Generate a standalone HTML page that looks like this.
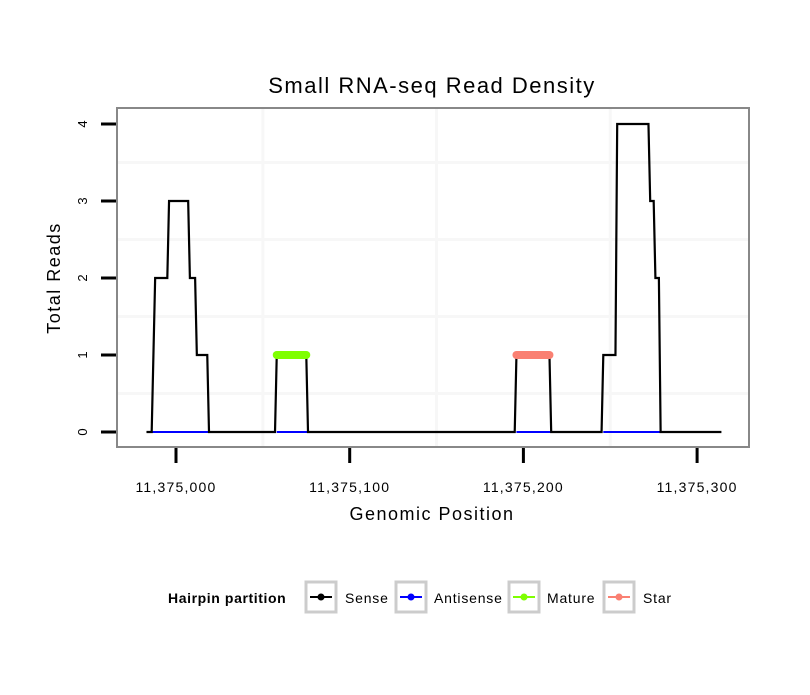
<!DOCTYPE html>
<html><head><meta charset="utf-8"><style>
body{margin:0;background:#fff;font-family:"Liberation Sans",sans-serif}
</style></head><body>
<svg width="810" height="690" xmlns="http://www.w3.org/2000/svg" font-family="Liberation Sans, sans-serif">
<text x="432" y="93" font-size="22" letter-spacing="1.5" text-anchor="middle">Small RNA-seq Read Density</text>
<g id="grid"></g>
<g id="series"></g>
<rect x="117" y="108" width="632" height="339" fill="none" stroke="#888" stroke-width="2"/>
<g id="axes"></g>
<text x="432" y="520" font-size="18" letter-spacing="1.5" text-anchor="middle">Genomic Position</text>
<text transform="translate(60,278) rotate(-90)" font-size="18" letter-spacing="1.5" text-anchor="middle">Total Reads</text>
<g>
<text x="168" y="603" font-size="14" letter-spacing="0.6" font-weight="bold">Hairpin partition</text>
<g><rect x="306" y="582" width="30" height="30" fill="#fff" stroke="#ccc" stroke-width="3"/><line x1="310" y1="597" x2="332" y2="597" stroke="#000" stroke-width="2"/><circle cx="321" cy="597" r="3.5" fill="#000"/><text x="345" y="603" font-size="14" letter-spacing="0.8">Sense</text></g>
<g><rect x="396" y="582" width="30" height="30" fill="#fff" stroke="#ccc" stroke-width="3"/><line x1="400" y1="597" x2="422" y2="597" stroke="#00f" stroke-width="2"/><circle cx="411" cy="597" r="3.5" fill="#00f"/><text x="434" y="603" font-size="14" letter-spacing="0.8">Antisense</text></g>
<g><rect x="509" y="582" width="30" height="30" fill="#fff" stroke="#ccc" stroke-width="3"/><line x1="513" y1="597" x2="535" y2="597" stroke="#7fff00" stroke-width="2"/><circle cx="524" cy="597" r="3.5" fill="#7fff00"/><text x="547" y="603" font-size="14" letter-spacing="0.8">Mature</text></g>
<g><rect x="604" y="582" width="30" height="30" fill="#fff" stroke="#ccc" stroke-width="3"/><line x1="608" y1="597" x2="630" y2="597" stroke="#fa8072" stroke-width="2"/><circle cx="619" cy="597" r="3.5" fill="#fa8072"/><text x="643" y="603" font-size="14" letter-spacing="0.8">Star</text></g>
</g>
</svg>
<script>
const xTicks=[0,100,200,300];
const xTickLabels=["11,375,000","11,375,100","11,375,200","11,375,300"];
const yTicks=[0,1,2,3,4];
const senseX=[-17,-14,-12,-5,-4,7,8,11,12,18,19,57,58,75,76,195,196,215,216,245,246,253,254,272,273,275,276,278,279,314];
const senseY=[0,0,2,2,3,3,2,2,1,1,0,0,1,1,0,0,1,1,0,0,1,1,4,4,3,3,2,2,0,0];
const antisenseSegs=[[-14,19],[58,76],[196,216],[246,279]];
const matureSeg=[58,75];
const starSeg=[196,215];
const ns="http://www.w3.org/2000/svg";
const X=v=>176+v*1.737, Y=v=>432-v*77;
function mk(tag,attrs,parent){const e=document.createElementNS(ns,tag);for(const k in attrs)e.setAttribute(k,attrs[k]);document.getElementById(parent).appendChild(e);return e;}
[50,150,250].forEach(v=>{const l=mk('line',{x1:X(v),x2:X(v),y1:109,y2:446,stroke:'#f7f7f7','stroke-width':3},'grid');

});
[0.5,1.5,2.5,3.5].forEach(v=>{const l=mk('line',{x1:118,x2:748,y1:Y(v),y2:Y(v),stroke:'#f7f7f7','stroke-width':3},'grid');

});
antisenseSegs.forEach(s=>{const l=mk('line',{x1:X(s[0]),x2:X(s[1]),y1:Y(0),y2:Y(0),stroke:'#00f','stroke-width':2},'series');

});
const p=mk('polyline',{points:senseX.map((x,i)=>X(x)+','+Y(senseY[i])).join(' '),fill:'none',stroke:'#000','stroke-width':2.2,'stroke-linejoin':'miter'},'series');


const m=mk('line',{x1:X(matureSeg[0]),x2:X(matureSeg[1]),y1:Y(1),y2:Y(1),stroke:'#7fff00','stroke-width':8,'stroke-linecap':'round'},'series');


const s=mk('line',{x1:X(starSeg[0]),x2:X(starSeg[1]),y1:Y(1),y2:Y(1),stroke:'#fa8072','stroke-width':8,'stroke-linecap':'round'},'series');


xTicks.forEach((v,i)=>{const t=mk('line',{x1:X(v),x2:X(v),y1:448,y2:463,stroke:'#000','stroke-width':3},'axes');


const tx=mk('text',{x:X(v),y:492,'font-size':14,'letter-spacing':1.2,'text-anchor':'middle'},'axes');tx.textContent=xTickLabels[i];

});
yTicks.forEach(v=>{const t=mk('line',{x1:101,x2:116,y1:Y(v),y2:Y(v),stroke:'#000','stroke-width':3},'axes');


const tx=mk('text',{transform:`translate(87,${Y(v)}) rotate(-90)`,'font-size':13,'text-anchor':'middle'},'axes');tx.textContent=v;

});
</script>
</body></html>
